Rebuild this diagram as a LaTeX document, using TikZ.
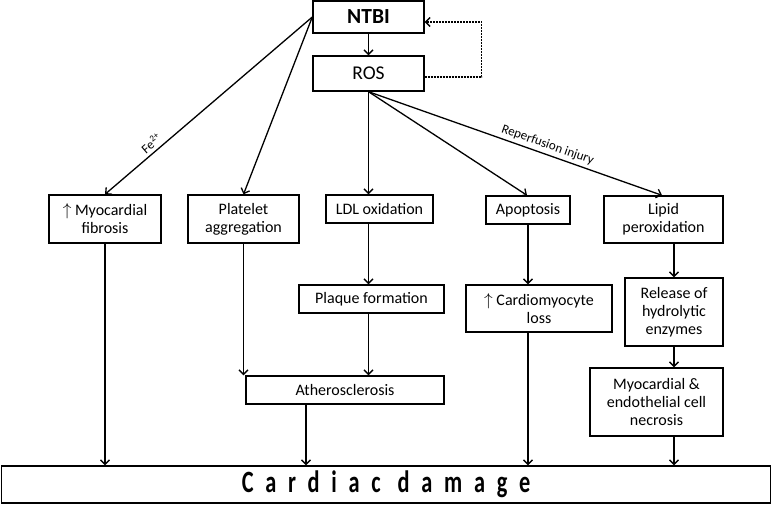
\documentclass[tikz,border=0pt]{standalone}
\usepackage{fontspec}
\setmainfont{Carlito}
\newfontfamily\damagefont[LetterSpace=38,FakeStretch=0.72]{Carlito}
\usetikzlibrary{arrows.meta}

\begin{document}
\begin{tikzpicture}[x=1pt,y=-1pt,
  >={Straight Barb[length=4.5pt,width=9pt]},
  box/.style={draw,line width=1.4pt,align=center,inner sep=1pt,
    font=\fontsize{16}{18}\selectfont},
  link/.style={->,line width=1.3pt},
  note/.style={font=\fontsize{13}{15}\selectfont,sloped,above,inner sep=3pt}]
  \useasboundingbox (0,0) rectangle (772,504);
  % source and radicals
  \node[box,minimum width=111pt,minimum height=32pt,
    font=\bfseries\fontsize{21.5}{24}\selectfont] (ntbi) at (368.5,17) {NTBI};
  \node[box,minimum width=111pt,minimum height=35pt,
    font=\fontsize{19.5}{22}\selectfont] (ros) at (368.5,73.5) {ROS};
  % first row
  \node[box,minimum width=112pt,minimum height=48pt] (fib) at (105,219) {$\uparrow$ Myocardial\\fibrosis};
  \node[box,minimum width=111pt,minimum height=48pt] (plat) at (243.5,219) {Platelet\\aggregation};
  \node[box,minimum width=107pt,minimum height=28pt] (ldl) at (379.5,209) {LDL oxidation};
  \node[box,minimum width=84pt,minimum height=28pt] (apop) at (528,210) {Apoptosis};
  \node[box,minimum width=119pt,minimum height=47pt] (lipid) at (663.5,219.5) {Lipid\\peroxidation};
  % second row
  \node[box,minimum width=145pt,minimum height=28pt] (plaque) at (371.5,299) {Plaque formation};
  \node[box,minimum width=146pt,minimum height=47pt] (cardio) at (539,308.5) {$\uparrow$ Cardiomyocyte\\loss};
  \node[box,minimum width=98pt,minimum height=68pt] (release) at (674,312) {Release of\\hydrolytic\\enzymes};
  \node[box,minimum width=198pt,minimum height=28pt] (ather) at (345,390) {Atherosclerosis};
  \node[box,minimum width=133pt,minimum height=68pt] (necro) at (656.5,402) {Myocardial \&\\endothelial cell\\necrosis};
  % outcome
  \node[box,minimum width=769pt,minimum height=37pt,
    font=\damagefont\bfseries\fontsize{31}{31}\selectfont] (damage) at (386,484.5) {Cardiac damage};

  \draw[link] (ntbi) -- (ros);
  \draw[link,dash pattern=on 2pt off 1pt] ([yshift=-3.5pt]ros.east) -- ++(57,0) |- ([yshift=-5pt]ntbi.east);
  \draw[link] (ntbi.west) -- node[note,pos=0.75] {Fe\textsuperscript{2+}} (fib.north);
  \draw[link] (ntbi.west) -- (plat.north);
  \draw[link] (ros.south) -- (ros.south |- ldl.north);
  \draw[link] (ros.south) -- ([xshift=-1pt]apop.north);
  \draw[link] (ros.south) -- node[note,pos=0.6] {Reperfusion injury} ([xshift=-1.5pt]lipid.north);

  \draw[link] (fib.south) -- (fib.south |- damage.north);
  \draw[link] (plat.south) -- (plat.south |- ather.north);
  \draw[link] (ldl.south -| ros.south) -- (plaque.north -| ros.south);
  \draw[link] (plaque.south -| ros.south) -- (ather.north -| ros.south);
  \draw[link] ([xshift=-39pt]ather.south) -- ([xshift=-39pt]ather.south |- damage.north);
  \draw[link] (apop.south) -- (apop.south |- cardio.north);
  \draw[link] (cardio.south -| apop.south) -- (damage.north -| apop.south);
  \draw[link] (lipid.south -| release.south) -- (release.north);
  \draw[link] (release.south) -- (release.south |- necro.north);
  \draw[link] (necro.south -| release.south) -- (damage.north -| release.south);
\end{tikzpicture}
\end{document}
